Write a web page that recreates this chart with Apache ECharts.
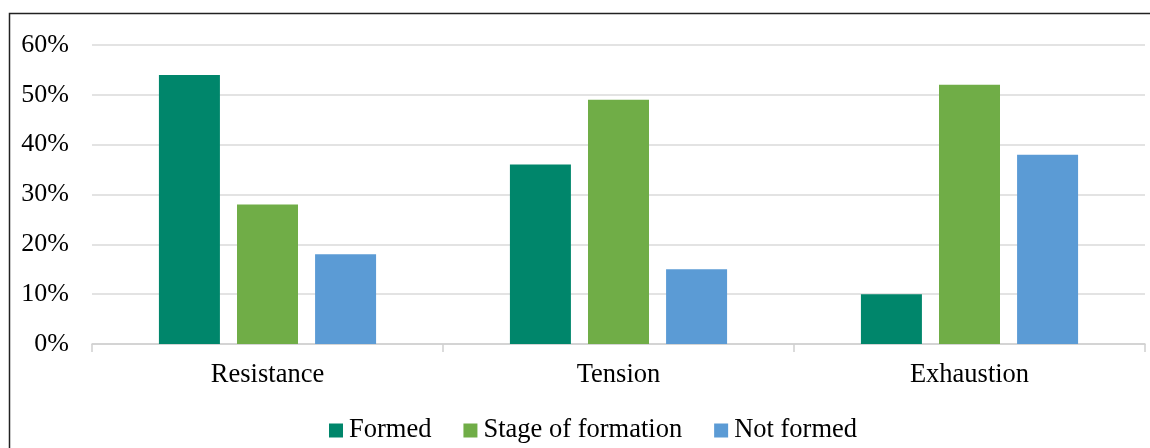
<!DOCTYPE html>
<html>
<head>
<meta charset="utf-8">
<script src="https://cdn.jsdelivr.net/npm/echarts@6/dist/echarts.min.js"></script>
<style>
html,body{margin:0;padding:0;background:#fff;}
#c{width:1150px;height:448px;}
</style>
</head>
<body>
<div id="c"></div>
<script>
const categories = ['Resistance', 'Tension', 'Exhaustion'];
const formed = [54, 36, 10];
const stage = [28, 49, 52];
const notFormed = [18, 15, 38];
const seriesNames = ['Formed', 'Stage of formation', 'Not formed'];
const colors = ['#00866B', '#70AD47', '#5B9BD5'];

const font = 'Liberation Serif, Times New Roman, serif';
const chart = echarts.init(document.getElementById('c'));
const dataSets = [formed, stage, notFormed];
chart.setOption({
  animation: false,
  color: colors,
  graphic: [{
    type: 'rect',
    shape: { x: 9.5, y: 13.5, width: 1300, height: 600 },
    style: { fill: 'none', stroke: '#222', lineWidth: 1.5 },
    silent: true
  }],
  grid: { left: 92, right: 5, top: 45, bottom: 104 },
  legend: {
    top: 417,
    left: 329,
    padding: 0,
    itemWidth: 14,
    itemHeight: 14,
    itemGap: 32,
    icon: 'rect',
    textStyle: { fontFamily: font, fontSize: 26.5, color: '#000', padding: [0, 0, 0, 1] },
    data: seriesNames
  },
  xAxis: {
    type: 'category',
    data: categories,
    axisLine: { lineStyle: { color: '#D0D0D0', width: 1.5 } },
    axisTick: { show: true, length: 8, lineStyle: { color: '#D0D0D0', width: 1.5 } },
    axisLabel: { fontFamily: font, fontSize: 26.5, color: '#000', margin: 18 }
  },
  yAxis: {
    type: 'value',
    min: 0,
    max: 60,
    interval: 10,
    axisLine: { show: false },
    axisTick: { show: false },
    splitLine: { lineStyle: { color: '#DADADA', width: 1.5 } },
    axisLabel: { formatter: '{value}%', fontFamily: font, fontSize: 26, color: '#000', margin: 23 }
  },
  series: seriesNames.map((n, i) => ({
    name: n,
    type: 'bar',
    data: dataSets[i],
    barWidth: 61,
    barGap: '28%',
    itemStyle: { color: colors[i] }
  }))
});
</script>
</body>
</html>
